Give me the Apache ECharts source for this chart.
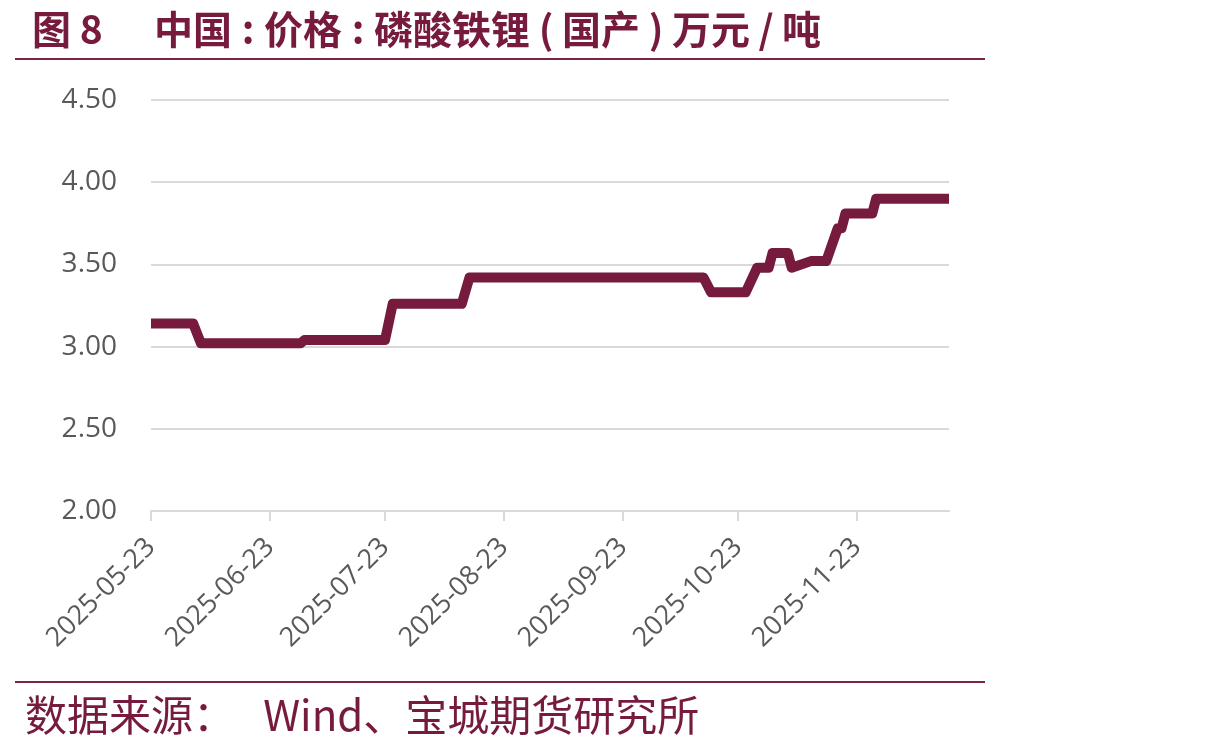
<!DOCTYPE html>
<html>
<head>
<meta charset="utf-8">
<script src="https://cdn.jsdelivr.net/npm/echarts@6/dist/echarts.min.js"></script>
<style>
html, body { margin: 0; padding: 0; background: #fff; }
#main { width: 1214px; height: 751px; }
</style>
</head>
<body>
<div id="main"></div>
<script>
// 磷酸铁锂(国产) 价格, 万元/吨 (只取价格变动的节点)
var dates = ['2025-05-23', '2025-06-03', '2025-06-05', '2025-07-01', '2025-07-02',
	'2025-07-23', '2025-07-25', '2025-08-12', '2025-08-14', '2025-10-14',
	'2025-10-16', '2025-10-25', '2025-10-28', '2025-10-31', '2025-11-01',
	'2025-11-05', '2025-11-06', '2025-11-11', '2025-11-15', '2025-11-18',
	'2025-11-19', '2025-11-20', '2025-11-27', '2025-11-28', '2025-12-17'];
var prices = [3.14, 3.14, 3.02, 3.02, 3.04,
	3.04, 3.26, 3.26, 3.42, 3.42,
	3.33, 3.33, 3.48, 3.48, 3.57,
	3.57, 3.48, 3.52, 3.52, 3.72,
	3.72, 3.81, 3.81, 3.90, 3.90];
var tickDates = ['2025-05-23', '2025-06-23', '2025-07-23', '2025-08-23', '2025-09-23', '2025-10-23', '2025-11-23'];
var xStart = '2025-05-23';
var xEnd = '2025-12-17';
var yMin = 2, yMax = 4.5, yStep = 0.5;

var red = '#761a3e';
var gray = '#595959';

function toTime(s) {
	var p = s.split('-');
	return new Date(+p[0], +p[1] - 1, +p[2]).getTime();
}
function pad(n) { return n < 10 ? '0' + n : '' + n; }
function fmtDate(v) {
	var d = new Date(v);
	return d.getFullYear() + '-' + pad(d.getMonth() + 1) + '-' + pad(d.getDate());
}

var seriesData = dates.map(function (d, i) { return [toTime(d), prices[i]]; });
var ticks = tickDates.map(toTime);

var option = {
	backgroundColor: '#fff',
	animation: false,
	title: [
		{
			text: '图 8',
			left: 27,
			top: 5,
			textStyle: { color: red, fontSize: 39, fontWeight: 'bold', fontFamily: 'Noto Sans CJK SC' }
		},
		{
			text: '中国{p|:}价格{p|:}磷酸铁锂{p|(}国产{p|)}万元{p|/}吨',
			left: 149,
			top: 5,
			textStyle: {
				color: red, fontSize: 39, fontWeight: 'bold', fontFamily: 'Noto Sans CJK SC',
				rich: {
					p: { width: 32, align: 'center', color: red, fontSize: 39, fontWeight: 'bold', fontFamily: 'Noto Sans CJK SC' }
				}
			}
		}
	],
	graphic: [
		{ type: 'line', shape: { x1: 15, y1: 59, x2: 985, y2: 59 }, style: { stroke: '#7b2447', lineWidth: 2 } },
		{ type: 'line', shape: { x1: 15, y1: 682, x2: 985, y2: 682 }, style: { stroke: '#7b2447', lineWidth: 2 } },
		{
			type: 'text', left: 25, top: 694,
			style: { text: '数据来源：   Wind、宝城期货研究所', fill: red, fontSize: 42, fontFamily: 'Noto Sans CJK SC' }
		}
	],
	grid: { left: 151, right: 265, top: 100, bottom: 240 },
	xAxis: {
		type: 'value',
		min: toTime(xStart),
		max: toTime(xEnd),
		axisLine: { lineStyle: { color: '#d9d9d9', width: 2 } },
		axisTick: { show: true, length: 10, customValues: ticks, lineStyle: { color: '#d9d9d9', width: 2 } },
		axisLabel: {
			customValues: ticks,
			rotate: 45,
			margin: 32,
			color: gray,
			fontSize: 27,
			fontFamily: 'Open Sans',
			formatter: function (v) { return fmtDate(v); }
		},
		splitLine: { show: false }
	},
	yAxis: {
		type: 'value',
		min: yMin,
		max: yMax,
		interval: yStep,
		axisLine: { show: false },
		axisTick: { show: false },
		axisLabel: {
			margin: 34,
			color: gray,
			fontSize: 28,
			fontFamily: 'Open Sans',
			formatter: function (v) { return v.toFixed(2); }
		},
		splitLine: { lineStyle: { color: '#d9d9d9', width: 2 } }
	},
	series: [
		{
			type: 'line',
			data: seriesData,
			showSymbol: false,
			symbol: 'none',
			lineStyle: { width: 10, color: red, cap: 'butt', join: 'round' }
		}
	]
};

var chart = echarts.init(document.getElementById('main'));
chart.setOption(option);
</script>
</body>
</html>
